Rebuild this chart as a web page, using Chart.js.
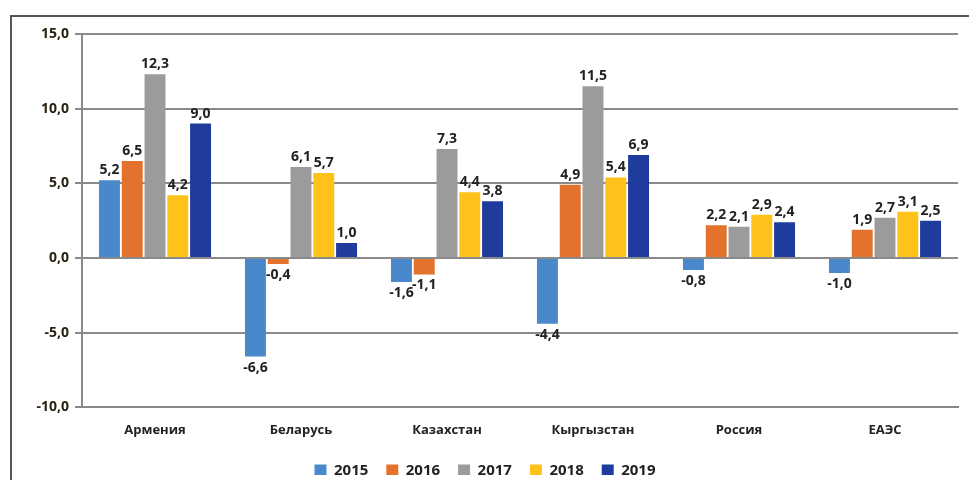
<!DOCTYPE html>
<html lang="ru">
<head>
    <meta charset="UTF-8">
    <title>Chart</title>
    <style>
        body { margin: 0; background: #fff; }
        #wrap { position: relative; width: 969px; height: 480px; }
        #frame { position: absolute; left: 10px; top: 15px; width: 965px; height: 470px; border: 2px solid #555; box-sizing: border-box; }
        canvas { position: absolute; left: 0; top: 0; }
    </style>
</head>
<body>
   <div id="wrap">
    <div id="frame"></div>
    <canvas id="mychart" width="969" height="480"></canvas>
   </div>
    <script src="https://cdn.jsdelivr.net/npm/chart.js"></script>
    <script>
        // data
        var countries = ['Армения', 'Беларусь', 'Казахстан', 'Кыргызстан', 'Россия', 'ЕАЭС'];
        var years = ['2015', '2016', '2017', '2018', '2019'];
        var v2015 = [5.2, -6.6, -1.6, -4.4, -0.8, -1.0];
        var v2016 = [6.5, -0.4, -1.1, 4.9, 2.2, 1.9];
        var v2017 = [12.3, 6.1, 7.3, 11.5, 2.1, 2.7];
        var v2018 = [4.2, 5.7, 4.4, 5.4, 2.9, 3.1];
        var v2019 = [9.0, 1.0, 3.8, 6.9, 2.4, 2.5];
        var colors = ['#4a88cc', '#e2722c', '#9b9b9b', '#ffc21a', '#1f3c9c'];

        function fmt(v) {
            return v.toFixed(1).replace('.', ',');
        }

        // simple value labels above / below each bar
        var valueLabels = {
            id: 'valueLabels',
            afterDatasetsDraw(chart) {
                var ctx = chart.ctx;
                ctx.save();
                ctx.font = 'bold 14px "Open Sans"';
                ctx.fillStyle = '#222';
                ctx.textAlign = 'center';
                chart.data.datasets.forEach(function (ds, i) {
                    var meta = chart.getDatasetMeta(i);
                    meta.data.forEach(function (bar, j) {
                        var v = ds.data[j];
                        if (v >= 0) {
                            ctx.textBaseline = 'bottom';
                            ctx.fillText(fmt(v), bar.x, bar.y - 3);
                        } else {
                            ctx.textBaseline = 'top';
                            ctx.fillText(fmt(v), bar.x, bar.y + 4);
                        }
                    });
                });
                ctx.restore();
            }
        };

        // keep the legend from eating plot height
        var legendFit = {
            id: 'legendFit',
            beforeInit(chart) {
                var orig = chart.legend.fit;
                chart.legend.fit = function () {
                    orig.bind(chart.legend)();
                    this.height -= 13;
                };
            }
        };

        var series = [v2015, v2016, v2017, v2018, v2019];
        var ctx = document.getElementById('mychart').getContext('2d');
        new Chart(ctx, {
            type: 'bar',
            data: {
                labels: countries,
                datasets: series.map(function (s, i) {
                    return {
                        label: years[i],
                        data: s,
                        backgroundColor: colors[i],
                        borderWidth: 0,
                        categoryPercentage: 0.78,
                        barPercentage: 0.92
                    };
                })
            },
            options: {
                responsive: false,
                animation: false,
                layout: { padding: { left: 12, right: 11, top: 34, bottom: 5 } },
                plugins: {
                    legend: {
                        position: 'bottom',
                        labels: {
                            boxWidth: 12,
                            boxHeight: 12,
                            padding: 18,
                            color: '#222',
                            font: { family: 'Open Sans', size: 15, weight: 'bold' }
                        }
                    },
                    tooltip: { enabled: false }
                },
                scales: {
                    x: {
                        grid: { display: false },
                        border: { color: '#888', width: 2 },
                        ticks: {
                            color: '#222',
                            padding: 7,
                            font: { family: 'Open Sans', size: 13, weight: 'bold' }
                        }
                    },
                    y: {
                        min: -10,
                        max: 15,
                        afterFit: function (scale) { scale.width = 70; },
                        grid: { color: '#8a8a8a', lineWidth: 2, tickLength: 7 },
                        border: { color: '#888', width: 2 },
                        ticks: {
                            stepSize: 5,
                            color: '#2a2210',
                            padding: 6,
                            font: { family: 'Open Sans', size: 14, weight: 'bold' },
                            callback: function (v) { return fmt(v); }
                        }
                    }
                }
            },
            plugins: [valueLabels, legendFit]
        });
    </script>
</body>
</html>
